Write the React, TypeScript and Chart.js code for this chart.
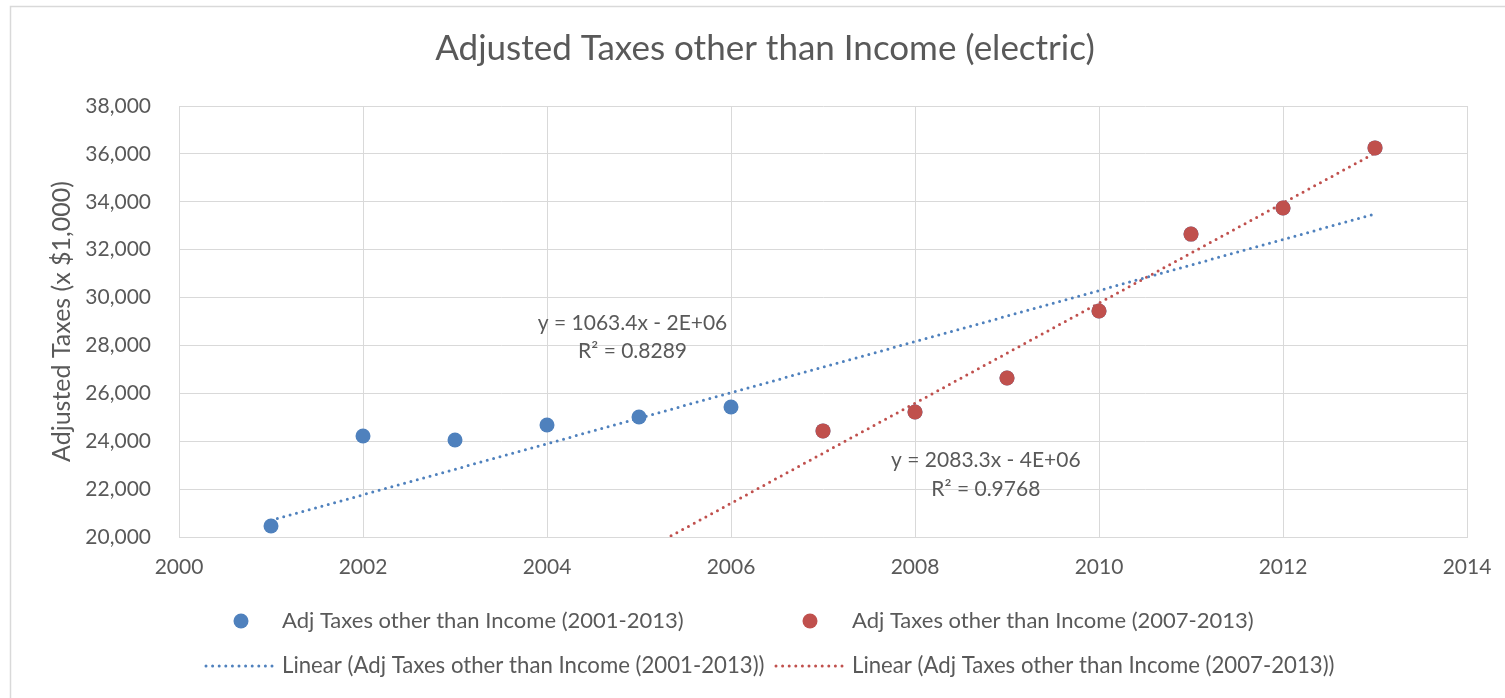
import React, { useEffect, useRef } from "react";
import { Chart, registerables } from "chart.js";

Chart.register(...registerables);

// ---- Data ----
const years = [2001, 2002, 2003, 2004, 2005, 2006, 2007, 2008, 2009, 2010, 2011, 2012, 2013];
const taxes2001to2013 = [20460, 24220, 24050, 24680, 25010, 25430, 24430, 25220, 26640, 29440, 32650, 33740, 36250];
const years2007to2013 = [2007, 2008, 2009, 2010, 2011, 2012, 2013];
const taxes2007to2013 = [24430, 25220, 26640, 29440, 32650, 33740, 36250];

const seriesLabels = [
  "Adj Taxes other than Income (2001-2013)",
  "Adj Taxes other than Income (2007-2013)",
];
const trendLabels = [
  "Linear (Adj Taxes other than Income (2001-2013))",
  "Linear (Adj Taxes other than Income (2007-2013))",
];
const equationBlue = ["y = 1063.4x - 2E+06", "R² = 0.8289"];
const equationRed = ["y = 2083.3x - 4E+06", "R² = 0.9768"];

const titleText = "Adjusted Taxes other than Income (electric)";
const yAxisTitle = "Adjusted Taxes (x $1,000)";

const xMin = 2000, xMax = 2014, xStep = 2;
const yMin = 20000, yMax = 38000, yStep = 2000;

const BLUE = "#4f81bd";
const RED = "#c0504d";
const TEXT = "#595959";
const GRID = "#d9d9d9";
const FONT = "Lato, 'Open Sans', sans-serif";

// least-squares fit (as the spreadsheet trendline does)
function linearFit(xs: number[], ys: number[]) {
  const n = xs.length;
  const mx = xs.reduce((a, b) => a + b, 0) / n;
  const my = ys.reduce((a, b) => a + b, 0) / n;
  let sxy = 0, sxx = 0;
  for (let i = 0; i < n; i++) {
    sxy += (xs[i] - mx) * (ys[i] - my);
    sxx += (xs[i] - mx) * (xs[i] - mx);
  }
  const slope = sxy / sxx;
  return { slope, intercept: my - slope * mx };
}

const overlayPlugin = {
  id: "overlay",
  beforeDraw(chart: any) {
    const ctx = chart.ctx;
    ctx.save();
    ctx.fillStyle = "#ffffff";
    ctx.fillRect(0, 0, chart.width, chart.height);
    ctx.strokeStyle = GRID;
    ctx.lineWidth = 1.5;
    ctx.strokeRect(10.5, 6.5, chart.width + 50, chart.height + 50);
    ctx.restore();
  },
  afterDraw(chart: any) {
    const ctx = chart.ctx;
    const xs = chart.scales.x;
    const ys = chart.scales.y;
    ctx.save();
    ctx.fillStyle = TEXT;

    // title
    ctx.font = `35px ${FONT}`;
    ctx.textAlign = "center";
    ctx.textBaseline = "middle";
    ctx.fillText(titleText, 765, 49);

    // y axis title
    ctx.save();
    ctx.translate(62, (chart.chartArea.top + chart.chartArea.bottom) / 2);
    ctx.rotate(-Math.PI / 2);
    ctx.font = `25px ${FONT}`;
    ctx.fillText(yAxisTitle, 0, 0);
    ctx.restore();

    // trendline equations
    ctx.font = `21px ${FONT}`;
    const drawEq = (lines: string[], xv: number, yv: number) => {
      const px = xs.getPixelForValue(xv);
      const py = ys.getPixelForValue(yv);
      ctx.fillText(lines[0], px, py);
      ctx.fillText(lines[1], px, py + 28.5);
    };
    drawEq(equationBlue, 2004.93, 28940);
    drawEq(equationRed, 2008.77, 23200);

    // legend
    ctx.textAlign = "left";
    ctx.font = `22px ${FONT}`;
    const row1 = 621, row2 = 666;
    ctx.fillStyle = BLUE;
    ctx.beginPath(); ctx.arc(241, row1, 7.5, 0, Math.PI * 2); ctx.fill();
    ctx.fillStyle = RED;
    ctx.beginPath(); ctx.arc(810, row1, 7.5, 0, Math.PI * 2); ctx.fill();
    ctx.fillStyle = TEXT;
    ctx.fillText(seriesLabels[0], 282, row1);
    ctx.fillText(seriesLabels[1], 852, row1);

    const dotted = (x0: number, x1: number, color: string) => {
      ctx.save();
      ctx.strokeStyle = color;
      ctx.lineWidth = 3;
      ctx.lineCap = "round";
      ctx.setLineDash([0, 6.6]);
      ctx.beginPath(); ctx.moveTo(x0, row2); ctx.lineTo(x1, row2); ctx.stroke();
      ctx.restore();
    };
    dotted(206, 274, BLUE);
    dotted(776, 844, RED);
    ctx.font = `22.2px ${FONT}`;
    ctx.fillText(trendLabels[0], 282, row2);
    ctx.fillText(trendLabels[1], 852, row2);
    ctx.restore();
  },
};

export default function App() {
  const ref = useRef<HTMLCanvasElement | null>(null);

  useEffect(() => {
    if (!ref.current) return;
    const blueFit = linearFit(years, taxes2001to2013);
    const redFit = linearFit(years2007to2013, taxes2007to2013);
    const blueStart = years[0], blueEnd = years[years.length - 1];
    const redStart = years[0], redEnd = years2007to2013[years2007to2013.length - 1];

    const chart = new Chart(ref.current, {
      type: "scatter",
      data: {
        datasets: [
          {
            label: seriesLabels[1],
            data: years2007to2013.map((x, i) => ({ x, y: taxes2007to2013[i] })),
            backgroundColor: RED,
            borderWidth: 0,
            pointRadius: 7.5,
            order: 0,
          },
          {
            label: seriesLabels[0],
            data: years.map((x, i) => ({ x, y: taxes2001to2013[i] })),
            backgroundColor: BLUE,
            borderWidth: 0,
            pointRadius: 7.5,
            order: 1,
          },
          {
            type: "line",
            label: trendLabels[0],
            data: [
              { x: blueStart, y: blueFit.slope * blueStart + blueFit.intercept },
              { x: blueEnd, y: blueFit.slope * blueEnd + blueFit.intercept },
            ],
            borderColor: BLUE,
            borderWidth: 3,
            borderDash: [0, 6.6],
            borderCapStyle: "round",
            pointRadius: 0,
            showLine: true,
            fill: false,
            order: 2,
          } as any,
          {
            type: "line",
            label: trendLabels[1],
            data: [
              { x: redStart, y: redFit.slope * redStart + redFit.intercept },
              { x: redEnd, y: redFit.slope * redEnd + redFit.intercept },
            ],
            borderColor: RED,
            borderWidth: 3,
            borderDash: [0, 6.6],
            borderCapStyle: "round",
            pointRadius: 0,
            showLine: true,
            fill: false,
            order: 3,
          } as any,
        ],
      },
      options: {
        animation: false,
        responsive: false,
        maintainAspectRatio: false,
        layout: { padding: { left: 79, top: 106, right: 38, bottom: 121 } },
        plugins: {
          legend: { display: false },
          title: { display: false },
          tooltip: { enabled: false },
        },
        scales: {
          x: {
            type: "linear",
            min: xMin,
            max: xMax,
            afterFit: (s: any) => { s.height = 40; s.paddingLeft = 0; s.paddingRight = 0; },
            ticks: {
              stepSize: xStep,
              color: TEXT,
              font: { family: FONT, size: 21 },
              padding: 18,
              callback: (v: any) => String(v),
            },
            grid: { color: GRID, lineWidth: 1, drawTicks: false },
            border: { color: GRID, width: 1 },
          },
          y: {
            type: "linear",
            min: yMin,
            max: yMax,
            afterFit: (s: any) => { s.width = 100; },
            ticks: {
              stepSize: yStep,
              color: TEXT,
              font: { family: FONT, size: 21 },
              padding: 28,
              callback: (v: any) => Number(v).toLocaleString("en-US"),
            },
            grid: { color: GRID, lineWidth: 1, drawTicks: false },
            border: { color: GRID, width: 1 },
          },
        },
      },
      plugins: [overlayPlugin],
    } as any);
    return () => chart.destroy();
  }, []);

  return (
    <div style={{ position: "fixed", left: 0, top: 0, width: 1505, height: 698 }}>
      <canvas ref={ref} width={1505} height={698} style={{ display: "block" }} />
    </div>
  );
}
